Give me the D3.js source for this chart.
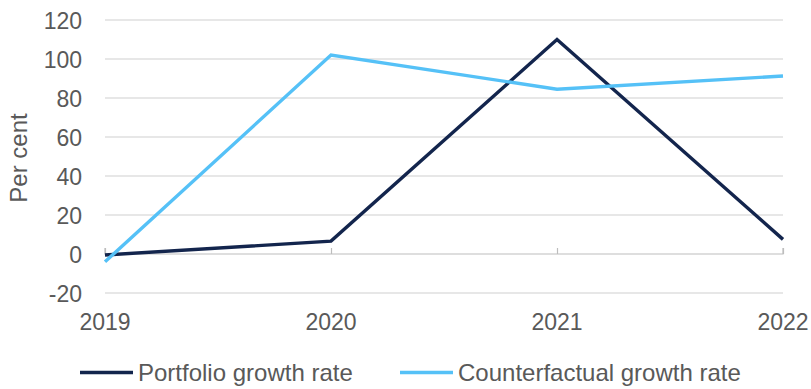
<!DOCTYPE html>
<html>
<head>
<meta charset="utf-8">
<script src="https://cdn.jsdelivr.net/npm/d3@7"></script>
<style>
  html, body { margin: 0; padding: 0; background: #fff; }
  svg { display: block; font-family: "Liberation Sans", Arial, sans-serif; }
</style>
</head>
<body>
<svg id="chart" width="811" height="389"></svg>
<script>
// Growth rates, per cent
const years = ["2019", "2020", "2021", "2022"];
const portfolio = [-0.5, 6.6, 110, 7.5];
const counterfactual = [-4, 102, 84.5, 91.3];
const yTicks = [-20, 0, 20, 40, 60, 80, 100, 120];
const seriesNames = ["Portfolio growth rate", "Counterfactual growth rate"];
const seriesColors = ["#13254d", "#55c1f7"];

const svg = d3.select("#chart");
const plotLeft = 105, plotRight = 783, plotTop = 20, plotBottom = 293;

const x = d3.scalePoint().domain(years).range([plotLeft, plotRight]);
const y = d3.scaleLinear().domain([-20, 120]).range([plotBottom, plotTop]);

const textColor = "#595959";
const fontSize = "23px";
const legendFontSize = "24px";

// Horizontal gridlines
svg.append("g")
  .selectAll("line")
  .data(yTicks.filter(v => v !== 0))
  .join("line")
  .attr("x1", plotLeft).attr("x2", plotRight)
  .attr("y1", d => y(d)).attr("y2", d => y(d))
  .attr("stroke", "#d0d0d0").attr("stroke-width", 1.2);

// Y axis labels
const yAxis = d3.axisLeft(y).tickValues(yTicks).tickSize(0).tickPadding(23)
  .tickFormat(d => String(d));
const gy = svg.append("g").attr("transform", `translate(${plotLeft},0)`).call(yAxis);
gy.select(".domain").remove();
gy.selectAll("text")
  .attr("fill", textColor)
  .attr("dy", "0.35em")
  .style("font-size", fontSize)
  .style("font-family", "Liberation Sans, Arial, sans-serif");

// Zero axis with inward ticks
const xAxis = d3.axisTop(x).tickSize(6).tickFormat("");
const gx = svg.append("g").attr("transform", `translate(0,${y(0)})`).call(xAxis);
gx.select(".domain").attr("stroke", "#bdbdbd").attr("stroke-width", 1.2)
  .attr("d", `M${plotLeft},-6V0H${plotRight}V-6`);
gx.selectAll(".tick line").attr("stroke", "#bdbdbd").attr("stroke-width", 1.2);

// Year labels below the plot
svg.append("g")
  .selectAll("text")
  .data(years)
  .join("text")
  .attr("x", d => x(d))
  .attr("y", 330)
  .attr("text-anchor", "middle")
  .attr("fill", textColor)
  .style("font-size", fontSize)
  .text(d => d);

// Y axis title
svg.append("text")
  .attr("transform", "translate(27,158) rotate(-90)")
  .attr("text-anchor", "middle")
  .attr("fill", textColor)
  .style("font-size", legendFontSize)
  .text("Per cent");

// Lines
const line = d3.line().x((d, i) => x(years[i])).y(d => y(d));
[portfolio, counterfactual].forEach((vals, i) => {
  svg.append("path")
    .datum(vals)
    .attr("fill", "none")
    .attr("stroke", seriesColors[i])
    .attr("stroke-width", 3.4)
    .attr("stroke-linejoin", "miter")
    .attr("d", line);
});

// Legend
const legendItems = [
  { name: seriesNames[0], color: seriesColors[0], x: 80 },
  { name: seriesNames[1], color: seriesColors[1], x: 400 }
];
const lg = svg.append("g");
legendItems.forEach(it => {
  lg.append("line")
    .attr("x1", it.x).attr("x2", it.x + 53)
    .attr("y1", 372.5).attr("y2", 372.5)
    .attr("stroke", it.color).attr("stroke-width", 3.4);
  lg.append("text")
    .attr("x", it.x + 58).attr("y", 381)
    .attr("fill", textColor)
    .style("font-size", legendFontSize)
    .text(it.name);
});
</script>
</body>
</html>
